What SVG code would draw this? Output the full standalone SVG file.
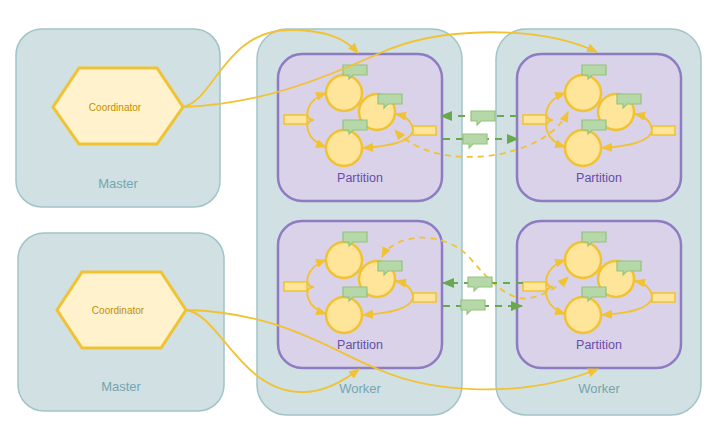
<svg xmlns="http://www.w3.org/2000/svg" xmlns:xlink="http://www.w3.org/1999/xlink" width="720" height="444" viewBox="0 0 720 444">
<style>
.box{fill:#d0e0e3;stroke:#a2c4c9;stroke-width:1.5}
.boxlbl{font-family:"Liberation Sans",Arial,sans-serif;font-size:13px;fill:#76a5af;text-anchor:middle}
.part{fill:#d9d2e9;stroke:#8e7cc3;stroke-width:2.5}
.partlbl{font-family:"Liberation Sans",Arial,sans-serif;font-size:12.5px;fill:#674ea7;text-anchor:middle}
.hex{fill:#fff2cc;stroke:#f1c232;stroke-width:3}
.hexlbl{font-family:"Liberation Sans",Arial,sans-serif;font-size:10px;fill:#bf9000;text-anchor:middle}
.vert{fill:#ffe599;stroke:#f1c232;stroke-width:2.5}
.msg{fill:#ffe599;stroke:#f1c232;stroke-width:1.5}
.call{fill:#b6d7a8;stroke:#93c47d;stroke-width:1.2}
.edge{fill:none;stroke:#f1c232;stroke-width:1.8}
.yd{fill:none;stroke:#f1c232;stroke-width:1.8;stroke-dasharray:6 5}
.gd{fill:none;stroke:#6aa84f;stroke-width:2;stroke-dasharray:7 6}
</style>
<defs>
<marker id="ay" markerUnits="userSpaceOnUse" markerWidth="12" markerHeight="10" refX="10" refY="4.5" orient="auto-start-reverse"><path d="M0,0 L11,4.5 L0,9 Z" fill="#f1c232"/></marker>
<marker id="ag" markerUnits="userSpaceOnUse" markerWidth="12" markerHeight="12" refX="11" refY="5" orient="auto"><path d="M0,0 L12,5 L0,10 Z" fill="#6aa84f"/></marker>
<path id="callout" d="M0,0 H24 V10 H10 L6,14 V10 H0 Z"/>
<g id="inner">
<circle class="vert" cx="344" cy="93" r="18"/>
<circle class="vert" cx="377" cy="112" r="18"/>
<circle class="vert" cx="344" cy="148" r="18"/>
<rect class="msg" x="284" y="115" width="23" height="9"/>
<rect class="msg" x="413" y="126" width="23" height="9"/>
<use href="#callout" class="call" x="343" y="65"/>
<use href="#callout" class="call" x="378" y="94"/>
<use href="#callout" class="call" x="343" y="120"/>
</g>
<g id="innerEdges">
<path class="edge" d="M314 120 C302 120,306 100,326 93" marker-end="url(#ay)"/>
<path class="edge" d="M314 120 C302 120,306 140,326 147" marker-end="url(#ay)"/>
<path class="edge" d="M413 130 C412 121,405 116,396 114" marker-end="url(#ay)"/>
<path class="edge" d="M413 131 C410 142,390 146,363 148" marker-end="url(#ay)"/>
</g>
</defs>
<rect width="720" height="444" fill="#ffffff"/>
<g id="master1">
<rect class="box" x="16" y="29" width="204" height="178" rx="26"/>
<text class="boxlbl" x="118" y="187.5">Master</text>
</g>
<g id="master2">
<rect class="box" x="18" y="233" width="206" height="178" rx="26"/>
<text class="boxlbl" x="121" y="390.5">Master</text>
</g>
<g id="worker1">
<rect class="box" x="257" y="29" width="205" height="386" rx="30"/>
<text class="boxlbl" x="360" y="392.5">Worker</text>
</g>
<g id="worker2">
<rect class="box" x="496" y="29" width="205" height="386" rx="30"/>
<text class="boxlbl" x="599" y="392.5">Worker</text>
</g>
<g id="coordinator1">
<polygon class="hex" points="53,107 79,68 157,68 183,107 157,144 79,144"/>
<text class="hexlbl" x="115" y="110.5">Coordinator</text>
</g>
<g id="coordinator2">
<polygon class="hex" points="57,310 82,272 161,272 186,310 161,348 82,348"/>
<text class="hexlbl" x="118" y="313.5">Coordinator</text>
</g>
<g id="partition-tl">
<rect class="part" x="278" y="54" width="164" height="147" rx="24"/>
<text class="partlbl" x="360" y="181.5">Partition</text>
<use href="#inner"/>
</g>
<g id="partition-tr" transform="translate(239,0)">
<rect class="part" x="278" y="54" width="164" height="147" rx="24"/>
<text class="partlbl" x="360" y="181.5">Partition</text>
<use href="#inner"/>
</g>
<g id="partition-bl" transform="translate(0,167)">
<rect class="part" x="278" y="54" width="164" height="147" rx="24"/>
<text class="partlbl" x="360" y="181.5">Partition</text>
<use href="#inner"/>
</g>
<g id="partition-br" transform="translate(239,167)">
<rect class="part" x="278" y="54" width="164" height="147" rx="24"/>
<text class="partlbl" x="360" y="181.5">Partition</text>
<use href="#inner"/>
</g>
<g id="connectors">
<use href="#innerEdges"/>
<use href="#innerEdges" transform="translate(239,0)"/>
<use href="#innerEdges" transform="translate(0,167)"/>
<use href="#innerEdges" transform="translate(239,167)"/>
<path class="yd" d="M568 112 C545 160,435 175,395 130" marker-start="url(#ay)" marker-end="url(#ay)"/>
<path class="yd" d="M382 257 C395 232,445 230,470 258 C490 282,510 302,530 298 C545 295,558 287,568 277" marker-start="url(#ay)" marker-end="url(#ay)"/>
<path class="gd" d="M517 116 L441 116" marker-end="url(#ag)"/>
<path class="gd" d="M443 139 L518 139" marker-end="url(#ag)"/>
<path class="gd" d="M523 283 L443 283" marker-end="url(#ag)"/>
<path class="gd" d="M443 306 L522 306" marker-end="url(#ag)"/>
<use href="#callout" class="call" x="471" y="111"/>
<use href="#callout" class="call" x="463" y="134"/>
<use href="#callout" class="call" x="468" y="277"/>
<use href="#callout" class="call" x="461" y="300"/>
<path class="edge" d="M183 107 C215 100,225 30,290 30 C325 30,345 38,358 53" marker-end="url(#ay)"/>
<path class="edge" d="M183 107 C260 104,320 80,380 53 C440 26,540 25,597 52" marker-end="url(#ay)"/>
<path class="edge" d="M186 310 C220 315,240 390,300 392 C325 393,345 380,359 369" marker-end="url(#ay)"/>
<path class="edge" d="M186 310 C280 312,330 350,380 370 C430 392,520 400,598 369" marker-end="url(#ay)"/>
</g>
</svg>
